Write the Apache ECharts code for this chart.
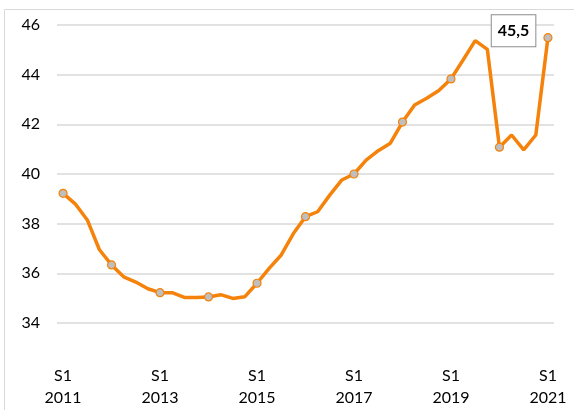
<!DOCTYPE html>
<html>
<head>
<meta charset="utf-8">
<script src="https://cdn.jsdelivr.net/npm/echarts@6/dist/echarts.min.js"></script>
<style>
  html, body { margin: 0; padding: 0; background: #fff; }
  #chart { width: 574px; height: 410px; }
</style>
</head>
<body>
<div id="chart"></div>
<script>
// quarterly points, 2011 T1 .. 2021 T1
const quarters = [
  '2011 T1', '2011 T2', '2011 T3', '2011 T4',
  '2012 T1', '2012 T2', '2012 T3', '2012 T4',
  '2013 T1', '2013 T2', '2013 T3', '2013 T4',
  '2014 T1', '2014 T2', '2014 T3', '2014 T4',
  '2015 T1', '2015 T2', '2015 T3', '2015 T4',
  '2016 T1', '2016 T2', '2016 T3', '2016 T4',
  '2017 T1', '2017 T2', '2017 T3', '2017 T4',
  '2018 T1', '2018 T2', '2018 T3', '2018 T4',
  '2019 T1', '2019 T2', '2019 T3', '2019 T4',
  '2020 T1', '2020 T2', '2020 T3', '2020 T4',
  '2021 T1'
]
const values = [
  39.22, 38.8, 38.15, 36.95,
  36.34, 35.86, 35.65, 35.38,
  35.22, 35.22, 35.03, 35.03,
  35.05, 35.14, 34.99, 35.06,
  35.6, 36.2, 36.74, 37.6,
  38.28, 38.48, 39.15, 39.76,
  40.0, 40.56, 40.94, 41.24,
  42.09, 42.78, 43.05, 43.36,
  43.83, 44.59, 45.37, 45.02,
  41.08, 41.57, 40.97, 41.57,
  45.49
]
const xTickLabels = ['S1\n2011', 'S1\n2013', 'S1\n2015', 'S1\n2017', 'S1\n2019', 'S1\n2021']
const lastLabel = '45,5'

const chart = echarts.init(document.getElementById('chart'))

const seriesData = values.map((v, i) => {
  if (i === values.length - 1) {
    return {
      value: v,
      label: {
        show: true,
        formatter: lastLabel,
        position: 'left',
        distance: 8,
        offset: [0, -7],
        color: '#000',
        fontWeight: 'bold',
        fontSize: 16,
        fontFamily: 'Lato',
        backgroundColor: '#fff',
        borderColor: '#8c8c8c',
        borderWidth: 1,
        padding: [8, 6, 7, 6]
      }
    }
  }
  return v
})

chart.setOption({
  animation: false,
  graphic: [{
    type: 'rect',
    shape: { x: 4.5, y: 9.5, width: 700, height: 600 },
    style: { fill: 'none', stroke: '#d9d9d9', lineWidth: 1 },
    silent: true
  }],
  grid: { left: 57, right: 20, top: 25, bottom: 87 },
  xAxis: {
    type: 'category',
    data: quarters,
    boundaryGap: true,
    axisLine: { show: false },
    axisTick: { show: false },
    axisLabel: {
      interval: 7,
      margin: 42,
      color: '#000',
      fontSize: 16,
      lineHeight: 22,
      fontFamily: 'Lato',
      formatter: (val, idx) => xTickLabels[idx / 8] || ''
    }
  },
  yAxis: {
    type: 'value',
    min: 34,
    max: 46,
    interval: 2,
    axisLine: { show: false },
    axisTick: { show: false },
    axisLabel: { margin: 17, color: '#000', fontSize: 16, fontFamily: 'Lato' },
    splitLine: { lineStyle: { color: '#d9d9d9', width: 1.5 } }
  },
  series: [{
    type: 'line',
    data: seriesData,
    lineStyle: { color: '#f5820a', width: 3.5 },
    itemStyle: { color: '#bfbfbf', borderColor: '#f5820a', borderWidth: 1.2 },
    symbol: 'circle',
    symbolSize: (v, p) => (p.dataIndex % 4 === 0 ? 8 : 0),
    showAllSymbol: true
  }]
})
</script>
</body>
</html>
